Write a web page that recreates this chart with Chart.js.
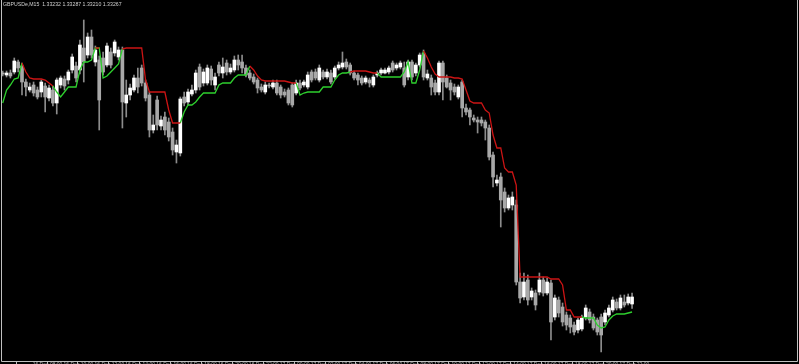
<!DOCTYPE html>
<html>
<head>
<meta charset="utf-8">
<script src="https://cdn.jsdelivr.net/npm/chart.js"></script>
<style>
  html, body { margin: 0; padding: 0; background: #000; }
  #wrap { width: 799px; height: 364px; }
</style>
</head>
<body>
<div id="wrap"><canvas id="chart" width="799" height="364"></canvas></div>
<script>
// GBPUSDe M15 candles, one entry per bar (oldest first)
const symbol = 'GBPUSDe,M15';

const opens = [
  1.34387, 1.34377, 1.34387, 1.34392, 1.34442, 1.34422, 1.34342, 1.34302, 1.34327, 1.34302,
  1.34292, 1.34322, 1.34262, 1.34302, 1.34237, 1.34327, 1.34357, 1.34352, 1.34402, 1.34422,
  1.34402, 1.34512, 1.34477, 1.34567, 1.34442, 1.34452, 1.34462, 1.34427, 1.34492, 1.34487,
  1.34467, 1.34502, 1.34237, 1.34277, 1.34302, 1.34362, 1.34412, 1.34337, 1.34277, 1.34102,
  1.34252, 1.34122, 1.34167, 1.34142, 1.34092, 1.33992, 1.33987, 1.34267, 1.34242, 1.34282,
  1.34302, 1.34417, 1.34337, 1.34337, 1.34407, 1.34327, 1.34427, 1.34387, 1.34437, 1.34392,
  1.34402, 1.34452, 1.34442, 1.34412, 1.34387, 1.34367, 1.34352, 1.34317, 1.34292, 1.34327,
  1.34317, 1.34337, 1.34317, 1.34292, 1.34302, 1.34327, 1.34287, 1.34337, 1.34327, 1.34317,
  1.34392, 1.34392, 1.34352, 1.34392, 1.34367, 1.34387, 1.34367, 1.34412, 1.34417, 1.34442,
  1.34427, 1.34387, 1.34377, 1.34362, 1.34342, 1.34352, 1.34327, 1.34377, 1.34387, 1.34387,
  1.34392, 1.34437, 1.34412, 1.34417, 1.34412, 1.34367, 1.34442, 1.34387, 1.34427, 1.34487,
  1.34362, 1.34362, 1.34337, 1.34292, 1.34437, 1.34362, 1.34337, 1.34317, 1.34267, 1.34342,
  1.34212, 1.34202, 1.34162, 1.34152, 1.34152, 1.34142, 1.34112, 1.33977, 1.33837, 1.33867,
  1.33792, 1.33712, 1.33727, 1.33727, 1.33342, 1.33267, 1.33352, 1.33267, 1.33287, 1.33292,
  1.33352, 1.33287, 1.33337, 1.33167, 1.33252, 1.33217, 1.33177, 1.33162, 1.33127, 1.33102,
  1.33107, 1.33167, 1.33192, 1.33167, 1.33152, 1.33167, 1.33142, 1.33177, 1.33202, 1.33242,
  1.33212, 1.33242, 1.33237, 1.33232
];

const highs = [
  1.34397, 1.34397, 1.34402, 1.34462, 1.34452, 1.34437, 1.34357, 1.34337, 1.34342, 1.34317,
  1.34352, 1.34337, 1.34327, 1.34322, 1.34362, 1.34372, 1.34372, 1.34402, 1.34482, 1.34442,
  1.34552, 1.34652, 1.34587, 1.34602, 1.34522, 1.34472, 1.34492, 1.34537, 1.34512, 1.34552,
  1.34517, 1.34517, 1.34352, 1.34332, 1.34377, 1.34412, 1.34427, 1.34352, 1.34292, 1.34177,
  1.34272, 1.34172, 1.34192, 1.34162, 1.34112, 1.34052, 1.34267, 1.34292, 1.34307, 1.34327,
  1.34402, 1.34432, 1.34407, 1.34427, 1.34422, 1.34387, 1.34442, 1.34462, 1.34452, 1.34432,
  1.34472, 1.34477, 1.34477, 1.34427, 1.34402, 1.34382, 1.34362, 1.34332, 1.34342, 1.34337,
  1.34352, 1.34352, 1.34327, 1.34307, 1.34312, 1.34337, 1.34352, 1.34352, 1.34352, 1.34392,
  1.34402, 1.34407, 1.34427, 1.34402, 1.34407, 1.34402, 1.34422, 1.34442, 1.34492, 1.34457,
  1.34437, 1.34397, 1.34387, 1.34372, 1.34372, 1.34362, 1.34377, 1.34397, 1.34412, 1.34412,
  1.34422, 1.34447, 1.34437, 1.34447, 1.34442, 1.34452, 1.34452, 1.34437, 1.34487, 1.34502,
  1.34402, 1.34377, 1.34352, 1.34447, 1.34447, 1.34377, 1.34352, 1.34332, 1.34327, 1.34352,
  1.34232, 1.34212, 1.34177, 1.34167, 1.34167, 1.34152, 1.34127, 1.33992, 1.33877, 1.33887,
  1.33812, 1.33777, 1.33792, 1.33752, 1.33387, 1.33387, 1.33377, 1.33312, 1.33302, 1.33387,
  1.33367, 1.33362, 1.33352, 1.33277, 1.33267, 1.33237, 1.33192, 1.33177, 1.33142, 1.33162,
  1.33177, 1.33227, 1.33207, 1.33182, 1.33162, 1.33182, 1.33202, 1.33227, 1.33267, 1.33257,
  1.33277, 1.33277, 1.33282, 1.33287
];

const lows = [
  1.34372, 1.34367, 1.34362, 1.34382, 1.34392, 1.34277, 1.34272, 1.34292, 1.34272, 1.34257,
  1.34267, 1.34192, 1.34247, 1.34222, 1.34182, 1.34312, 1.34302, 1.34332, 1.34387, 1.34342,
  1.34382, 1.34342, 1.34462, 1.34462, 1.34422, 1.34102, 1.34377, 1.34417, 1.34412, 1.34472,
  1.34452, 1.34112, 1.34167, 1.34252, 1.34292, 1.34287, 1.34322, 1.34247, 1.34067, 1.34087,
  1.34102, 1.34102, 1.34077, 1.34047, 1.33977, 1.33937, 1.33972, 1.34222, 1.34227, 1.34272,
  1.34287, 1.34302, 1.34322, 1.34327, 1.34327, 1.34302, 1.34372, 1.34362, 1.34377, 1.34382,
  1.34392, 1.34402, 1.34387, 1.34367, 1.34352, 1.34332, 1.34287, 1.34292, 1.34282, 1.34312,
  1.34307, 1.34277, 1.34262, 1.34267, 1.34227, 1.34217, 1.34277, 1.34302, 1.34317, 1.34307,
  1.34342, 1.34352, 1.34342, 1.34357, 1.34357, 1.34332, 1.34357, 1.34402, 1.34407, 1.34407,
  1.34377, 1.34352, 1.34327, 1.34327, 1.34332, 1.34317, 1.34317, 1.34367, 1.34377, 1.34382,
  1.34382, 1.34392, 1.34402, 1.34407, 1.34317, 1.34352, 1.34352, 1.34372, 1.34417, 1.34352,
  1.34352, 1.34277, 1.34277, 1.34277, 1.34252, 1.34312, 1.34252, 1.34277, 1.34257, 1.34167,
  1.34177, 1.34127, 1.34142, 1.34087, 1.34122, 1.34052, 1.33952, 1.33817, 1.33822, 1.33617,
  1.33692, 1.33702, 1.33702, 1.33327, 1.33237, 1.33252, 1.33227, 1.33252, 1.33202, 1.33277,
  1.33272, 1.33277, 1.33052, 1.33152, 1.33167, 1.33122, 1.33102, 1.33087, 1.33077, 1.33087,
  1.33097, 1.33152, 1.33137, 1.33102, 1.33077, 1.32992, 1.33127, 1.33167, 1.33192, 1.33202,
  1.33202, 1.33217, 1.33227, 1.33210
];

const closes = [
  1.34382, 1.34387, 1.34372, 1.34447, 1.34412, 1.34342, 1.34317, 1.34317, 1.34287, 1.34267,
  1.34342, 1.34267, 1.34312, 1.34237, 1.34352, 1.34362, 1.34322, 1.34392, 1.34467, 1.34362,
  1.34527, 1.34442, 1.34567, 1.34477, 1.34502, 1.34252, 1.34392, 1.34522, 1.34427, 1.34542,
  1.34502, 1.34242, 1.34277, 1.34312, 1.34362, 1.34317, 1.34337, 1.34262, 1.34102, 1.34127,
  1.34127, 1.34152, 1.34102, 1.34067, 1.34002, 1.34027, 1.34257, 1.34237, 1.34292, 1.34302,
  1.34387, 1.34317, 1.34392, 1.34412, 1.34352, 1.34367, 1.34387, 1.34417, 1.34392, 1.34412,
  1.34452, 1.34427, 1.34412, 1.34377, 1.34362, 1.34342, 1.34312, 1.34302, 1.34327, 1.34322,
  1.34337, 1.34287, 1.34277, 1.34277, 1.34237, 1.34227, 1.34337, 1.34312, 1.34342, 1.34377,
  1.34352, 1.34362, 1.34412, 1.34367, 1.34392, 1.34342, 1.34412, 1.34427, 1.34437, 1.34417,
  1.34387, 1.34362, 1.34352, 1.34337, 1.34362, 1.34337, 1.34367, 1.34387, 1.34402, 1.34402,
  1.34412, 1.34402, 1.34427, 1.34437, 1.34327, 1.34442, 1.34367, 1.34427, 1.34477, 1.34367,
  1.34382, 1.34317, 1.34292, 1.34437, 1.34342, 1.34317, 1.34302, 1.34292, 1.34317, 1.34212,
  1.34192, 1.34167, 1.34152, 1.34142, 1.34137, 1.34112, 1.33967, 1.33867, 1.33852, 1.33752,
  1.33712, 1.33762, 1.33767, 1.33342, 1.33262, 1.33342, 1.33252, 1.33297, 1.33227, 1.33352,
  1.33287, 1.33342, 1.33142, 1.33262, 1.33187, 1.33142, 1.33127, 1.33117, 1.33092, 1.33152,
  1.33162, 1.33212, 1.33152, 1.33112, 1.33092, 1.33077, 1.33187, 1.33212, 1.33252, 1.33212,
  1.33262, 1.33227, 1.33267, 1.33267
];

// trailing stop line (supertrend style), one level per bar
const stopLevel = [
  1.34237, 1.34302, 1.34327, 1.34357, 1.34362, 1.34437, 1.34392, 1.34362, 1.34357, 1.34357,
  1.34357, 1.34352, 1.34337, 1.34322, 1.34292, 1.34267, 1.34292, 1.34317, 1.34317, 1.34317,
  1.34402, 1.34442, 1.34442, 1.34452, 1.34512, 1.34512, 1.34362, 1.34372, 1.34392, 1.34412,
  1.34432, 1.34507, 1.34512, 1.34512, 1.34512, 1.34512, 1.34512, 1.34352, 1.34292, 1.34292,
  1.34292, 1.34292, 1.34292, 1.34202, 1.34137, 1.34137, 1.34137, 1.34192, 1.34227, 1.34227,
  1.34242, 1.34267, 1.34287, 1.34287, 1.34287, 1.34287, 1.34327, 1.34337, 1.34337, 1.34337,
  1.34362, 1.34377, 1.34377, 1.34377, 1.34422, 1.34402, 1.34372, 1.34352, 1.34347, 1.34347,
  1.34347, 1.34347, 1.34347, 1.34347, 1.34342, 1.34337, 1.34337, 1.34277, 1.34287, 1.34292,
  1.34292, 1.34292, 1.34292, 1.34317, 1.34317, 1.34317, 1.34352, 1.34377, 1.34387, 1.34387,
  1.34392, 1.34397, 1.34397, 1.34397, 1.34397, 1.34392, 1.34387, 1.34387, 1.34367, 1.34367,
  1.34367, 1.34367, 1.34367, 1.34367, 1.34392, 1.34442, 1.34337, 1.34337, 1.34402, 1.34497,
  1.34462, 1.34417, 1.34382, 1.34367, 1.34367, 1.34367, 1.34367, 1.34362, 1.34362, 1.34357,
  1.34302, 1.34247, 1.34237, 1.34237, 1.34237, 1.34202, 1.34187, 1.34077, 1.34012, 1.34012,
  1.33912, 1.33892, 1.33892, 1.33827, 1.33367, 1.33367, 1.33367, 1.33367, 1.33367, 1.33367,
  1.33367, 1.33367, 1.33357, 1.33357, 1.33357, 1.33327, 1.33202, 1.33202, 1.33167, 1.33167,
  1.33167, 1.33162, 1.33162, 1.33162, 1.33127, 1.33112, 1.33117, 1.33152, 1.33172, 1.33182,
  1.33182, 1.33182, 1.33187, 1.33192
];

// bar index ranges where the stop line is below price (green) / above price (red)
const upRanges = [[0, 5], [13, 31], [46, 64], [76, 90], [97, 109], [150, 163]];
const downRanges = [[5, 13], [24, 25], [31, 46], [64, 76], [90, 97], [109, 150]];

// time axis labels, one every 8 bars
const timeLabels = [
  '16 Dec 08:00', '16 Dec 10:00', '16 Dec 12:00', '16 Dec 14:00', '16 Dec 16:00',
  '16 Dec 18:00', '16 Dec 20:00', '16 Dec 22:00', '17 Dec 00:00', '17 Dec 02:00',
  '17 Dec 04:00', '17 Dec 06:00', '17 Dec 08:00', '17 Dec 10:00', '17 Dec 12:00',
  '17 Dec 14:00', '17 Dec 16:00', '17 Dec 18:00', '17 Dec 20:00', '17 Dec 22:00'
];

const BULL = '#ffffff';
const BEAR = '#a8a8a8';
const WICK = '#8c8c8c';
const FRAME = '#c0c0c0';

const inRanges = (ranges, i) => ranges.some(([a, b]) => i >= a && i <= b);

const wickData = highs.map((h, i) => ({ x: i, y: [lows[i], h] }));
const bodyData = opens.map((o, i) => ({ x: i, y: [o, closes[i]] }));
const bodyColors = opens.map((o, i) => closes[i] >= o ? BULL : BEAR);
const upData = stopLevel.map((v, i) => ({ x: i, y: inRanges(upRanges, i) ? v : null }));
const downData = stopLevel.map((v, i) => ({ x: i, y: inRanges(downRanges, i) ? v : null }));

const last = opens.length - 1;
const header = symbol + '  ' + [opens[last], highs[last], lows[last], closes[last]]
  .map(v => v.toFixed(5)).join(' ');

const blackBg = {
  id: 'blackBg',
  beforeDraw(chart) {
    const ctx = chart.ctx;
    ctx.save();
    ctx.fillStyle = '#000';
    ctx.fillRect(0, 0, chart.width, chart.height);
    ctx.restore();
  }
};

// left/right/bottom frame lines plus the symbol header
const frameAndHeader = {
  id: 'frameAndHeader',
  afterDraw(chart) {
    const { ctx, chartArea: a } = chart;
    ctx.save();
    ctx.strokeStyle = FRAME;
    ctx.lineWidth = 1;
    ctx.beginPath();
    ctx.moveTo(a.left - 0.5, a.top);
    ctx.lineTo(a.left - 0.5, a.bottom + 0.5);
    ctx.lineTo(a.right - 0.5, a.bottom + 0.5);
    ctx.lineTo(a.right - 0.5, a.top);
    ctx.stroke();
    ctx.fillStyle = '#d0d0d0';
    ctx.font = '5.2px "Liberation Sans", Arial, sans-serif';
    ctx.textBaseline = 'top';
    ctx.fillText(header, a.left + 1, 2);
    ctx.restore();
  }
};

new Chart(document.getElementById('chart'), {
  type: 'bar',
  data: {
    datasets: [
      {
        type: 'line', data: downData, borderColor: '#cc1414', borderWidth: 1.3,
        pointRadius: 0, spanGaps: false, order: 1
      },
      {
        type: 'line', data: upData, borderColor: '#2ed02e', borderWidth: 1.3,
        pointRadius: 0, spanGaps: false, order: 2
      },
      {
        data: bodyData, backgroundColor: bodyColors, barThickness: 3,
        minBarLength: 1, grouped: false, borderWidth: 0, order: 3
      },
      {
        data: wickData, backgroundColor: WICK, barThickness: 1,
        grouped: false, borderWidth: 0, order: 4
      }
    ]
  },
  options: {
    responsive: false,
    devicePixelRatio: 1,
    animation: false,
    events: [],
    layout: { padding: { left: 2, right: 1, top: 0, bottom: 0 } },
    plugins: { legend: { display: false }, tooltip: { enabled: false } },
    scales: {
      x: {
        type: 'linear',
        min: -0.18,
        max: 205.98,
        offset: false,
        afterFit: s => { s.height = 3; },
        afterBuildTicks: s => { s.ticks = timeLabels.map((t, i) => ({ value: 7.5 + 8 * i })); },
        grid: { drawOnChartArea: false, drawTicks: true, tickLength: 3, color: FRAME },
        border: { display: false },
        ticks: {
          autoSkip: false, maxRotation: 0, minRotation: 0, align: 'start',
          padding: -2, labelOffset: 1, color: '#b0b0b0',
          font: { size: 5, family: 'Liberation Sans' },
          callback: (v, i) => timeLabels[i]
        }
      },
      y: {
        display: false,
        min: 1.32947,
        max: 1.34752
      }
    }
  },
  plugins: [blackBg, frameAndHeader]
});
</script>
</body>
</html>
